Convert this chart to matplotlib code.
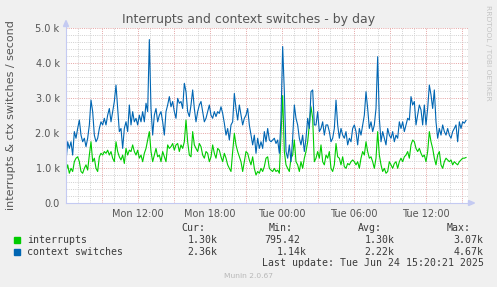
# Munin style chart: interrupts and context switches, by day

import numpy as np
import matplotlib.pyplot as plt
from matplotlib.patches import Rectangle, Polygon

# -----------------------
#      Data (per second, 5 min samples, Mon 06:00 -> Tue 15:20)
# -----------------------

interrupts = [
    900, 1090, 850, 990, 900, 1180, 1280, 1320, 1180, 900, 850, 990, 1090, 940, 1370,
    1750, 1180, 1280, 990, 900, 1320, 1420, 1370, 1470, 1420, 1510, 1370, 1470, 1280, 1180,
    1750, 1470, 1320, 1230, 1370, 1130, 1560, 1370, 1510, 1470, 1660, 1470, 1370, 1510, 1280,
    1370, 1180, 1420, 1560, 1800, 2040, 1470, 1180, 1370, 1560, 1320, 1370, 1180, 1470, 1320,
    1180, 1660, 1560, 1610, 1700, 1510, 1660, 1700, 1470, 1660, 1560, 1750, 2370, 1750, 1370,
    1320, 2040, 1660, 1560, 1470, 1700, 1610, 1370, 1280, 1470, 1420, 1180, 1320, 1660, 1420,
    1280, 1560, 1510, 1320, 1180, 1420, 1280, 1090, 990, 900, 1470, 1990, 1660, 1470, 1320,
    1180, 900, 1180, 1470, 1420, 1230, 1090, 1320, 990, 800, 900, 850, 990, 900, 1040,
    1280, 1320, 990, 940, 900, 990, 900, 940, 850, 1940, 3070, 1470, 1090, 990, 900,
    1280, 1370, 1800, 1180, 1090, 900, 1180, 990, 1280, 1470, 1750, 2230, 2750, 2420, 1180,
    1280, 1470, 1280, 1660, 1180, 1090, 1370, 1280, 1470, 990, 900, 1090, 1700, 1320, 1280,
    1090, 1320, 1040, 990, 1130, 1090, 1180, 1230, 1180, 1090, 1180, 990, 1280, 1470, 1370,
    1750, 1470, 1280, 1320, 1180, 990, 1280, 2040, 1370, 1090, 900, 990, 850, 900, 1180,
    1090, 990, 1130, 1180, 990, 1180, 1280, 1180, 1320, 1370, 1470, 1280, 1660, 1800, 1750,
    1560, 1470, 1560, 1420, 1320, 1370, 1180, 1470, 2040, 1750, 1560, 1280, 1090, 1370, 1470,
    1090, 990, 1180, 1280, 1230, 1180, 1230, 1090, 1180, 1130, 1090, 1180, 1230, 1280, 1280,
    1300,
]

ctx_switches = [
    1180, 1750, 1560, 1750, 1370, 2040, 1850, 2130, 2370, 1940, 1750, 1850, 1610, 1850, 2230,
    2940, 2610, 1940, 1750, 1850, 2130, 2320, 2230, 2420, 2230, 2510, 2700, 2320, 2610, 2900,
    3370, 2700, 2040, 2130, 1560, 2130, 2320, 2040, 2800, 2230, 2610, 2320, 2420, 2230, 2510,
    2320, 2610, 2320, 2850, 2610, 4670, 2700, 1940, 2510, 2700, 2320, 2510, 2610, 2320, 1940,
    2610, 2800, 3040, 2750, 2900, 2610, 2420, 2990, 2850, 2900, 2700, 3420, 3180, 2610, 2470,
    2800, 3230, 2700, 2320, 2610, 2800, 2900, 2610, 2320, 2420, 2610, 2800, 2510, 2420, 2610,
    2470, 2610, 2560, 2750, 2560, 2280, 1940, 2130, 1800, 2230, 2320, 3130, 2700, 2370, 2800,
    2510, 2230, 2420, 2510, 2700, 2230, 1940, 1660, 1940, 1420, 1850, 1560, 1750, 1560, 2040,
    1750, 2130, 1800, 1750, 1800, 1850, 1700, 1800, 1420, 2420, 4470, 3180, 1470, 1280, 1660,
    1180, 1850, 2800, 2420, 2230, 1850, 1660, 1940, 1470, 1850, 2420, 2130, 3180, 3230, 2230,
    2230, 2610, 2040, 2130, 2320, 1940, 2230, 2230, 2040, 1750, 1850, 2130, 2940, 2230, 1850,
    2130, 1940, 1850, 2040, 1660, 1850, 1750, 2130, 2230, 2040, 1660, 2130, 1940, 2230, 2510,
    3180, 2700, 2130, 2320, 2040, 2230, 2700, 4180, 2420, 1750, 2040, 1850, 1660, 2130, 1940,
    1850, 2040, 1750, 1940, 1850, 2320, 2130, 2320, 2040, 2230, 2420, 2370, 3040, 2800, 2900,
    2230, 2510, 2800, 2660, 2230, 2800, 2230, 2700, 3370, 3090, 2700, 3230, 2320, 1850, 2130,
    1940, 2230, 2040, 1940, 2130, 1940, 1850, 2040, 2130, 2230, 1750, 2320, 2130, 2320, 2280,
    2360,
]

# x axis (hours since Mon 00:00)
tick_hours = [12, 18, 24, 30, 36]
tick_labels = ["Mon 12:00", "Mon 18:00", "Tue 00:00", "Tue 06:00", "Tue 12:00"]
y_ticks = [0, 1000, 2000, 3000, 4000, 5000]
y_labels = ["0.0", "1.0 k", "2.0 k", "3.0 k", "4.0 k", "5.0 k"]

series_names = ["interrupts", "context switches"]
series_colors = ["#00cc00", "#0066b3"]
cur_vals = ["1.30k", "2.36k"]
min_vals = ["795.42", "1.14k"]
avg_vals = ["1.30k", "2.22k"]
max_vals = ["3.07k", "4.67k"]

t_start, t_end = 6.0, 6.0 + 400 / 12
hours = np.linspace(t_start, t_end, len(interrupts))

# -----------------------
#      Figure
# -----------------------
W, H = 497, 287
fig = plt.figure(figsize=(W / 100, H / 100), dpi=100, facecolor="#f0f0f0")


def fx(x):
    return x / W


def fy(y):
    return 1 - y / H


ax = fig.add_axes([fx(66), fy(203), 402 / W, 175 / H])
ax.set_facecolor("white")
ax.set_xlim(t_start, t_start + 402 / 12)
ax.set_ylim(0, 5000)
for s in ax.spines.values():
    s.set_visible(False)

# grid, rrdtool style dotted
dots = (0, (1, 1.2))
for h in range(7, 40):
    col = "#e6a8a8" if h % 3 == 0 else "#d2d2d2"
    ax.axvline(h, color=col, lw=0.72, ls=dots, zorder=0)
for v in range(200, 5001, 200):
    col = "#e6a8a8" if v % 1000 == 0 else "#d2d2d2"
    ax.axhline(v, color=col, lw=0.72, ls=dots, zorder=0)

ax.plot(hours, interrupts, color=series_colors[0], lw=0.8, zorder=3)
ax.plot(hours, ctx_switches, color=series_colors[1], lw=0.8, zorder=4)

ax.set_xticks(tick_hours)
ax.set_xticklabels(tick_labels)
ax.set_yticks(y_ticks)
ax.set_yticklabels(y_labels)
ax.tick_params(axis="x", length=0, pad=4.6, labelsize=7, labelcolor="#555555")
ax.tick_params(axis="y", length=0, pad=4.6, labelsize=7, labelcolor="#555555")

# axis lines with arrows
axis_col = "#c4caf2"
fig.add_artist(plt.Line2D([fx(66), fx(469)], [fy(203), fy(203)], color=axis_col, lw=0.8))
fig.add_artist(plt.Line2D([fx(66), fx(66)], [fy(203), fy(25)], color=axis_col, lw=0.8))
fig.add_artist(Polygon([(fx(66), fy(20.5)), (fx(63.5), fy(26.5)), (fx(68.5), fy(26.5))],
                       closed=True, color=axis_col, transform=fig.transFigure))
fig.add_artist(Polygon([(fx(474.5), fy(203)), (fx(468.5), fy(200.5)), (fx(468.5), fy(205.5))],
                       closed=True, color=axis_col, transform=fig.transFigure))

# texts
fig.text(fx(248.5), fy(19), "Interrupts and context switches - by day",
         ha="center", va="center", fontsize=9, color="#555555")
fig.text(fx(11.5), fy(115.5), "interrupts & ctx switches / second", rotation=90,
         ha="center", va="center", fontsize=8, color="#555555")
fig.text(fx(488), fy(53), "RRDTOOL / TOBI OETIKER", rotation=270,
         ha="center", va="center", fontsize=5.4, color="#c4c4c4")

mono = "DejaVu Sans Mono"
tc = "#3a3a3a"
for lab, xl in zip(["Cur:", "Min:", "Avg:", "Max:"], [181, 269, 358, 447]):
    fig.text(fx(xl), fy(227.7), lab, ha="left", va="center", family=mono, fontsize=7.1, color=tc)

rows_y = [240, 251.7]
for i in range(2):
    y = rows_y[i]
    fig.add_artist(Rectangle((fx(14), fy(y + 3)), 6 / W, 6 / H, color=series_colors[i],
                             transform=fig.transFigure))
    fig.text(fx(27), fy(y), series_names[i], ha="left", va="center", family=mono,
             fontsize=7.1, color=tc)
    fig.text(fx(217.5), fy(y), cur_vals[i], ha="right", va="center", family=mono, fontsize=7.1, color=tc)
    xr = 306.5 if min_vals[i].endswith("k") else 300.5
    fig.text(fx(xr), fy(y), min_vals[i], ha="right", va="center", family=mono, fontsize=7.1, color=tc)
    fig.text(fx(394.5), fy(y), avg_vals[i], ha="right", va="center", family=mono, fontsize=7.1, color=tc)
    fig.text(fx(483.5), fy(y), max_vals[i], ha="right", va="center", family=mono, fontsize=7.1, color=tc)

fig.text(fx(483.5), fy(263.3), "Last update: Tue Jun 24 15:20:21 2025", ha="right", va="center",
         family=mono, fontsize=7.1, color=tc)
fig.text(fx(248.5), fy(276), "Munin 2.0.67", ha="center", va="center", fontsize=5.4, color="#b8b8b8")

fig.savefig("out.png", dpi=100, facecolor=fig.get_facecolor())
